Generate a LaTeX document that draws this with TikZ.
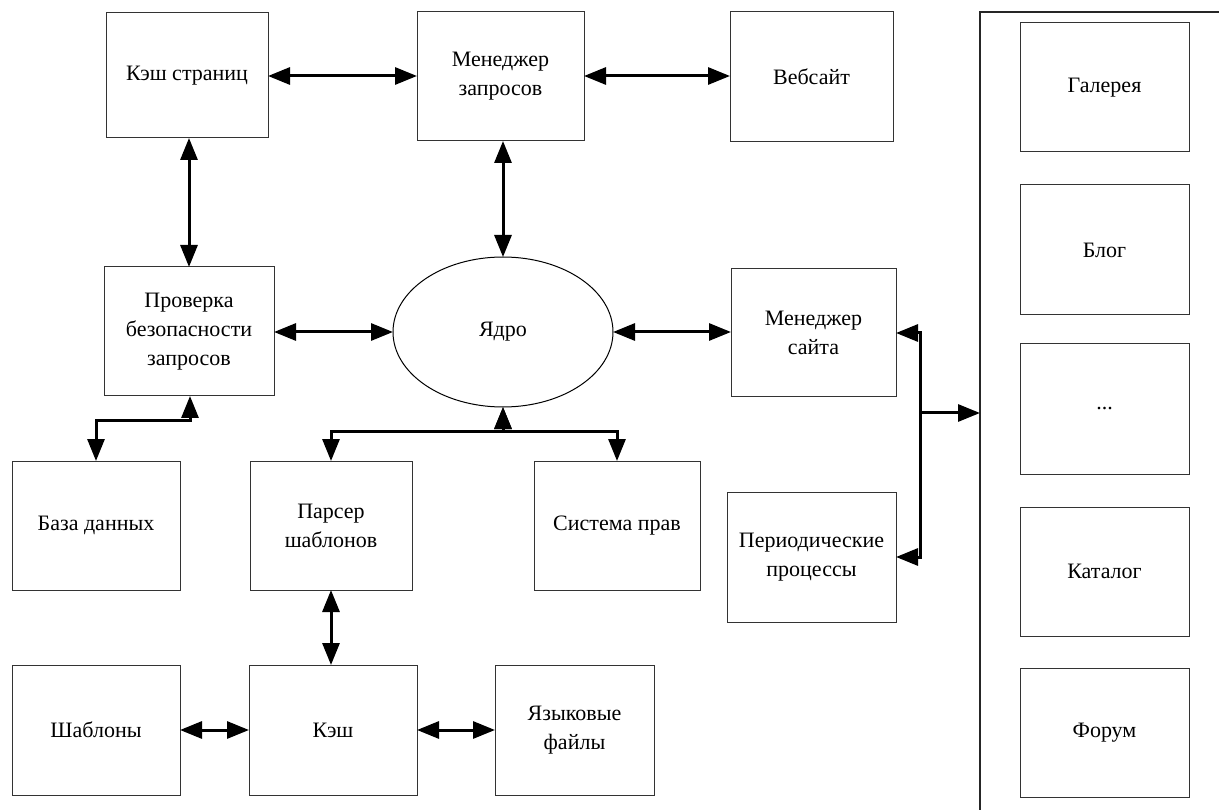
\documentclass[tikz,border=0pt]{standalone}
\usepackage{fontspec}
\setmainfont{Liberation Serif}
\usetikzlibrary{arrows.meta,shapes.geometric}
\begin{document}
\begin{tikzpicture}[x=1pt,y=-1pt,
  box/.style={draw=black!80,line width=1pt,inner sep=0pt,outer sep=0pt,align=center,
    font=\fontsize{22}{29}\selectfont},
  conn/.style={line width=3pt,{Triangle[length=22pt,width=17pt]}-{Triangle[length=22pt,width=17pt]}},
  oneway/.style={line width=3pt,-{Triangle[length=22pt,width=17pt]}}]
\useasboundingbox (0,0) rectangle (1219,810);
% top row
\node[box,minimum width=162pt,minimum height=125pt] (ks) at (187,75.5) {Кэш страниц};
\node[box,minimum width=167pt,minimum height=129pt] (mz) at (500.5,76.5) {Менеджер\\запросов};
\node[box,minimum width=163pt,minimum height=130pt] (web) at (811.5,77) {Вебсайт};
% middle row
\node[box,minimum width=170pt,minimum height=129pt] (pb) at (189,331.5) {Проверка\\безопасности\\запросов};
\node[draw=black,line width=1pt,ellipse,minimum width=220pt,minimum height=150pt,inner sep=0pt,outer sep=0pt,
  font=\fontsize{22}{29}\selectfont] (core) at (503,332) {Ядро};
\node[box,minimum width=165pt,minimum height=128pt] (ms) at (813.5,333) {Менеджер\\сайта};
% third row
\node[box,minimum width=168pt,minimum height=129pt] (db) at (96,525.5) {База данных};
\node[box,minimum width=162pt,minimum height=129pt] (ps) at (331,525.5) {Парсер\\шаблонов};
\node[box,minimum width=166pt,minimum height=129pt] (sp) at (617,525.5) {Система прав};
\node[box,minimum width=169pt,minimum height=130pt] (pp) at (811.5,557) {Периодические\\процессы};
% bottom row
\node[box,minimum width=168pt,minimum height=130pt] (tpl) at (96,730) {Шаблоны};
\node[box,minimum width=168pt,minimum height=130pt] (cache) at (333,730) {Кэш};
\node[box,minimum width=159pt,minimum height=130pt] (lang) at (574.5,730) {Языковые\\файлы};
% right panel
\draw[black!85,line width=1.2pt] (980,810) -- (980,12) -- (1219,12);
\coordinate (panelin) at (980,413);
\node[box,minimum width=169pt,minimum height=129pt] (gal) at (1104.5,87.5) {Галерея};
\node[box,minimum width=169pt,minimum height=130pt] (blog) at (1104.5,250) {Блог};
\node[box,minimum width=169pt,minimum height=130pt] (dots) at (1104.5,409) {...};
\node[box,minimum width=169pt,minimum height=129pt] (cat) at (1104.5,571.5) {Каталог};
\node[box,minimum width=169pt,minimum height=129pt] (forum) at (1104.5,732.5) {Форум};
% connectors
\draw[conn] (ks.east |- 0,76) -- (mz.west |- 0,76);
\draw[conn] (mz.east |- 0,76) -- (web.west |- 0,76);
\draw[conn] (ks.south -| 189,0) -- (pb.north);
\draw[conn] (mz.south -| core.north) -- (core.north);
\draw[conn] (pb.east |- core.west) -- (core.west);
\draw[conn] (core.east) -- (ms.west |- core.east);
\coordinate (pbj) at (190,421);
\draw[conn] (pb.south -| pbj) -- (pbj) -| (db.north);
\coordinate (cj) at (503,431);
\draw[conn] (core.south) -- (cj) -| (ps.north);
\draw[conn] (core.south) -- (cj) -| (sp.north);
\draw[conn] (ps.south) -- (cache.north -| ps.south);
\draw[conn] (tpl.east) -- (cache.west);
\draw[conn] (cache.east) -- (lang.west);
\coordinate (sj) at (920,413);
\draw[oneway] (sj) |- (ms.east);
\draw[oneway] (sj) |- (pp.east);
\draw[oneway] (sj) -- (panelin);
\end{tikzpicture}
\end{document}
